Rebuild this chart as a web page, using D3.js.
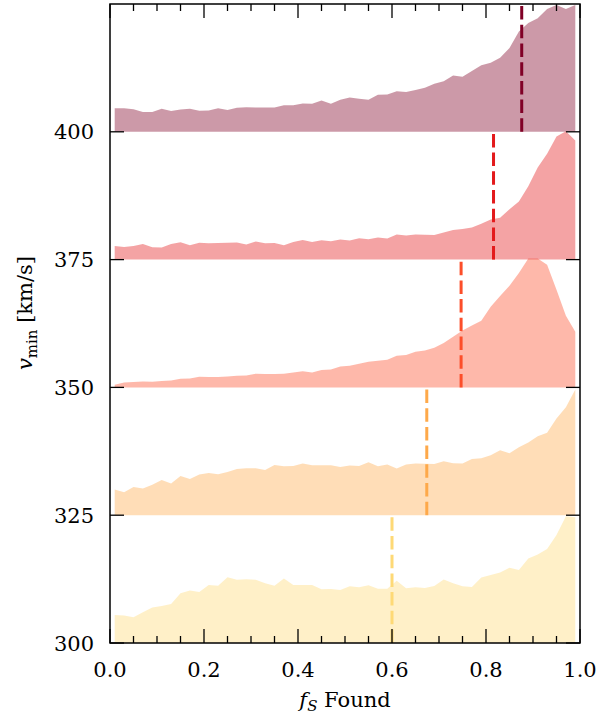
<!DOCTYPE html>
<html>
<head>
<script src="https://d3js.org/d3.v7.min.js"></script>
<style>
  body { margin: 0; background: white; }
  text { font-family: "DejaVu Serif", serif; fill: black; }
</style>
</head>
<body>
<script>
// bin centres of f_S Found
const fS = [0.01, 0.03, 0.05, 0.07, 0.09, 0.11, 0.13, 0.15, 0.17, 0.19,
            0.21, 0.23, 0.25, 0.27, 0.29, 0.31, 0.33, 0.35, 0.37, 0.39,
            0.41, 0.43, 0.45, 0.47, 0.49, 0.51, 0.53, 0.55, 0.57, 0.59,
            0.61, 0.63, 0.65, 0.67, 0.69, 0.71, 0.73, 0.75, 0.77, 0.79,
            0.81, 0.83, 0.85, 0.87, 0.89, 0.91, 0.93, 0.95, 0.97, 0.99];

const vMin = [300, 325, 350, 375, 400];
const medians = [0.600, 0.674, 0.747, 0.816, 0.876];
const colors = ['#fed976', '#fea94a', '#fc4e2a', '#e31a1c', '#800026'];

// ridge heights above each baseline (km/s)
const ridge300 = [5.48, 5.38, 5.03, 6.03, 6.94, 7.24, 7.63, 9.74, 10.27, 9.98,
                  11.35, 11.2, 12.87, 12.38, 12.46, 12.38, 11.68, 11.2, 12.6, 11.35,
                  11.35, 11.35, 10.5, 10.56, 10.37, 11.09, 10.9, 11.29, 10.62, 10.62,
                  12.19, 10.7, 10.9, 10.76, 11.15, 12.42, 11.68, 11.09, 10.95, 12.79,
                  13.3, 13.79, 14.73, 14.28, 16.53, 17.31, 18.39, 21.13, 24.8, 24.6];
const ridge325 = [5.03, 4.5, 5.54, 5.22, 5.97, 6.9, 6.2, 7.67, 7.1, 7.96,
                  8.26, 8.02, 8.45, 9.06, 9.19, 9.19, 8.86, 9.84, 9.59, 9.64,
                  10.1, 9.78, 9.78, 9.78, 9.45, 9.72, 9.64, 10.37, 9.59, 9.92,
                  9.14, 9.92, 10.1, 10.07, 10.0, 10.56, 10.17, 10.1, 11.0, 11.15,
                  11.74, 12.7, 12.13, 13.3, 14.2, 15.45, 16.14, 18.9, 21.1, 24.6];
const ridge350 = [0.5, 0.98, 1.08, 1.17, 1.1, 1.25, 1.35, 1.7, 1.76, 2.09,
                  2.03, 2.03, 2.13, 2.29, 2.35, 2.68, 2.64, 2.62, 2.68, 2.93,
                  3.17, 2.93, 3.4, 3.52, 4.1, 4.24, 4.64, 5.03, 5.22, 5.42,
                  6.2, 6.34, 6.98, 7.24, 7.77, 8.69, 9.92, 11.15, 12.13, 13.05,
                  15.8, 17.9, 19.9, 22.4, 25.2, 25.2, 24.0, 19.1, 14.0, 10.9];
const ridge375 = [2.68, 2.48, 2.68, 3.03, 2.41, 2.35, 3.07, 3.38, 2.8, 3.29,
                  3.2, 3.26, 3.28, 3.33, 2.93, 3.52, 3.19, 3.26, 2.8, 3.46,
                  3.85, 3.46, 3.78, 3.58, 3.93, 3.76, 4.17, 3.97, 4.3, 4.11,
                  4.89, 4.7, 4.89, 4.85, 4.83, 5.28, 5.79, 6.0, 6.26, 7.0,
                  7.82, 8.2, 9.84, 11.35, 14.34, 18.0, 20.7, 24.1, 25.1, 23.3];
const ridge400 = [4.6, 4.6, 4.4, 3.85, 3.85, 4.5, 4.05, 4.35, 4.5, 4.1,
                  4.15, 4.6, 4.25, 4.7, 4.8, 4.75, 4.75, 4.75, 5.2, 5.2,
                  5.55, 5.5, 6.1, 5.5, 6.25, 6.7, 6.45, 6.25, 7.25, 7.3,
                  7.95, 7.8, 8.2, 8.6, 9.4, 9.9, 11.0, 10.75, 11.9, 13.0,
                  13.5, 14.5, 16.4, 19.6, 21.3, 22.2, 24.0, 24.8, 24.0, 24.8];
const ridges = [ridge300, ridge325, ridge350, ridge375, ridge400];

const xMajor = [0, 0.2, 0.4, 0.6, 0.8, 1.0];
const xMinor = [0.05, 0.1, 0.15, 0.25, 0.3, 0.35, 0.45, 0.5, 0.55, 0.65, 0.7, 0.75, 0.85, 0.9, 0.95];
const yMajor = [300, 325, 350, 375, 400];

const w = 602;
const h = 718;
const mLeft = 110, mRight = 580, mTop = 4, mBottom = 643;

const x = d3.scaleLinear().domain([0, 1]).range([mLeft, mRight]);
const y = d3.scaleLinear().domain([300, 425]).range([mBottom, mTop]);

const svg = d3.select('body')
              .append('svg')
              .attr('width', w)
              .attr('height', h);

ridges.forEach((vals, k) => {
  const base = vMin[k];
  const area = d3.area()
                 .x((d, i) => x(fS[i]))
                 .y0(y(base))
                 .y1(d => y(base + d));
  svg.append('path')
     .attr('d', area(vals))
     .attr('fill', colors[k])
     .attr('fill-opacity', 0.4);
  svg.append('line')
     .attr('x1', x(medians[k]))
     .attr('x2', x(medians[k]))
     .attr('y1', y(base))
     .attr('y2', y(base + 25))
     .attr('stroke', colors[k])
     .attr('stroke-width', 3)
     .attr('stroke-dasharray', '13.5,5.2');
});

// ticks, pointing inward on all four sides
const ticks = svg.append('g').attr('stroke', 'black').attr('stroke-width', 1.3);
const xTick = (vals, len) => {
  ticks.selectAll(null).data(vals).enter().append('line')
       .attr('x1', d => x(d)).attr('x2', d => x(d))
       .attr('y1', mBottom).attr('y2', mBottom - len);
  ticks.selectAll(null).data(vals).enter().append('line')
       .attr('x1', d => x(d)).attr('x2', d => x(d))
       .attr('y1', mTop).attr('y2', mTop + len);
};
xTick(xMajor, 14);
xTick(xMinor, 7);
ticks.selectAll(null).data(yMajor).enter().append('line')
     .attr('x1', mLeft).attr('x2', mLeft + 14)
     .attr('y1', d => y(d)).attr('y2', d => y(d));
ticks.selectAll(null).data(yMajor).enter().append('line')
     .attr('x1', mRight - 14).attr('x2', mRight)
     .attr('y1', d => y(d)).attr('y2', d => y(d));

svg.selectAll('.xlabel')
   .data(xMajor)
   .enter()
   .append('text')
   .attr('class', 'xlabel')
   .attr('x', d => x(d))
   .attr('y', 677)
   .attr('text-anchor', 'middle')
   .style('font-size', '21px')
   .text(d3.format('.1f'));

svg.selectAll('.ylabel')
   .data(yMajor)
   .enter()
   .append('text')
   .attr('class', 'ylabel')
   .attr('x', 94)
   .attr('y', d => y(d))
   .attr('dy', '0.36em')
   .attr('text-anchor', 'end')
   .style('font-size', '21px')
   .text(d => d);

svg.append('rect')
   .attr('x', mLeft)
   .attr('y', mTop)
   .attr('width', mRight - mLeft)
   .attr('height', mBottom - mTop)
   .attr('fill', 'none')
   .attr('stroke', 'black')
   .attr('stroke-width', 1.5);

// axis labels
const yl = svg.append('text')
              .attr('transform', 'translate(32,313) rotate(-90)')
              .attr('text-anchor', 'middle')
              .style('font-size', '21px');
yl.append('tspan').style('font-style', 'italic').text('v');
yl.append('tspan').attr('dy', 5).style('font-size', '15px').text('min');
yl.append('tspan').attr('dy', -5).text(' [km/s]');

const xl = svg.append('text')
              .attr('x', 345)
              .attr('y', 707)
              .attr('text-anchor', 'middle')
              .style('font-size', '21px');
xl.append('tspan').style('font-style', 'italic').text('f');
xl.append('tspan').attr('dy', 4).style('font-size', '15px').style('font-style', 'italic').text('S');
xl.append('tspan').attr('dy', -4).text(' Found');
</script>
</body>
</html>
